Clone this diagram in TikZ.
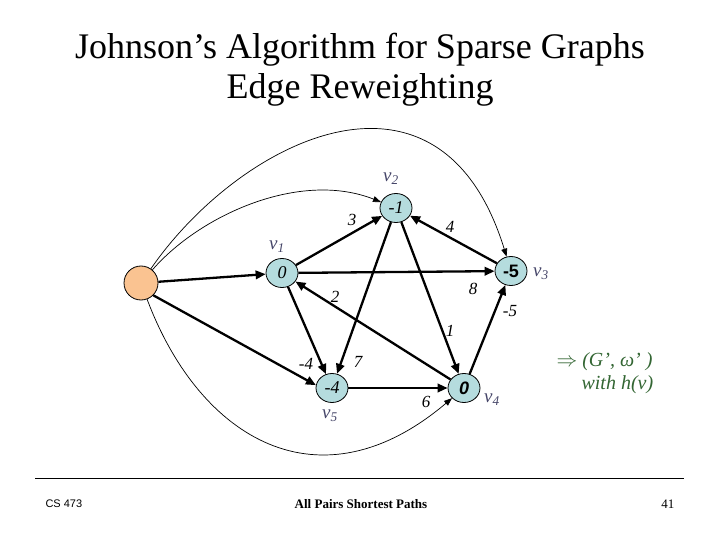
\documentclass[tikz,border=0pt]{standalone}
\usepackage{fontspec}
\setmainfont{Liberation Serif}
\setsansfont{Liberation Sans}
\usepackage{tikz}
\usetikzlibrary{arrows.meta}
\usetikzlibrary{shapes.geometric}
\definecolor{vfill}{RGB}{181,220,222}
\definecolor{sfill}{RGB}{250,195,145}
\definecolor{vname}{RGB}{70,70,105}
\definecolor{hint}{RGB}{51,102,51}
\tikzset{
  vtx/.style={ellipse, draw, fill=vfill, line width=0.8pt, minimum width=32pt,
    minimum height=29pt, inner sep=0pt, font=\fontsize{18}{18}\selectfont\itshape},
  src/.style={circle, draw, fill=sfill, line width=0.8pt, minimum size=34pt, inner sep=0pt},
  edge/.style={line width=2.3pt, -{Triangle[length=10pt,width=8.5pt]}},
  extra/.style={line width=0.7pt, -{Triangle[length=8pt,width=6pt]}},
  wt/.style={font=\fontsize{17}{17}\selectfont\itshape, inner sep=1pt},
  vlabel/.style={text=vname, font=\fontsize{19}{19}\selectfont\itshape, inner sep=1pt},
}

\begin{document}
\begin{tikzpicture}[x=1pt, y=-1pt]
  \path[use as bounding box, fill=white] (0,0) rectangle (720,540);

  % title
  \node[anchor=base, font=\fontsize{36}{36}\selectfont] (title1) at (360,59) {Johnson’s Algorithm for Sparse Graphs};
  \node[anchor=base, font=\fontsize{36}{36}\selectfont] (title2) at (360,99) {Edge Reweighting};

  % vertices
  \node[src] (s) at (141,283) {};
  \node[vtx] (v1) at (282,273) {0};
  \node[vtx] (v2) at (396,208) {-1};
  \node[vtx] (v3) at (511,271) {\fontsize{18}{18}\selectfont\sffamily\bfseries\upshape -5};
  \node[vtx] (v4) at (464,388) {\fontsize{18}{18}\selectfont\sffamily\bfseries 0};
  \node[vtx] (v5) at (332,388) {-4};

  \node[vlabel] (n1) at (277,247) {v\textsubscript{1}};
  \node[vlabel] (n2) at (391,179) {v\textsubscript{2}};
  \node[vlabel] (n3) at (541,274) {v\textsubscript{3}};
  \node[vlabel] (n4) at (492,400) {v\textsubscript{4}};
  \node[vlabel] (n5) at (330,416) {v\textsubscript{5}};

  % edges of G
  \draw[edge] (v1) -- (v2);
  \draw[edge] (v3) -- (v2);
  \draw[edge] (v1) -- (v3);
  \draw[edge] (v4) -- (v1);
  \draw[edge] (v2) -- (v4);
  \draw[edge] (v2) -- (v5);
  \draw[edge] (v1) -- (v5);
  \draw[edge] (v5) -- (v4);
  \draw[edge] (v4) -- (v3);

  % edges from the new vertex
  \draw[edge] (s) -- (v1);
  \draw[edge] (s.south east) -- (v5.170);
  \draw[extra] (s) .. controls (200,215) and (300,170) .. (v2);
  \draw[extra] (s) .. controls (240,140) and (440,40) .. (v3);
  \draw[extra] (s) .. controls (200,440) and (320,510) .. (v4);

  % weights
  \node[wt] (w12) at (352,220) {3};
  \node[wt] (w32) at (450,227) {4};
  \node[wt] (w13) at (473,289) {8};
  \node[wt] (w41) at (335,297) {2};
  \node[wt] (w24) at (450,331) {1};
  \node[wt] (w15) at (306,364) {-4};
  \node[wt] (w25) at (358,362) {7};
  \node[wt] (w54) at (426,402) {6};
  \node[wt] (w43) at (510,311) {-5};

  % result
  \node[anchor=base west, text=hint, font=\fontsize{20}{20}\selectfont\itshape] (res1) at (553,366) {$\Rightarrow$ (G', ω' )};
  \node[anchor=base west, text=hint, font=\fontsize{20}{20}\selectfont\itshape] (res2) at (578,389) {with h(v)};

  % footer
  \coordinate (fl) at (35,478);
  \coordinate (fr) at (684,478);
  \draw[line width=1pt] (fl) -- (fr);
  \node[anchor=base west, font=\sffamily\fontsize{11}{11}\selectfont] (course) at (42,507) {CS 473};
  \node[anchor=base, font=\bfseries\fontsize{13}{13}\selectfont] (topic) at (361,508) {All Pairs Shortest Paths};
  \node[anchor=base east, font=\fontsize{13}{13}\selectfont] (page) at (678,508) {41};
\end{tikzpicture}
\end{document}
